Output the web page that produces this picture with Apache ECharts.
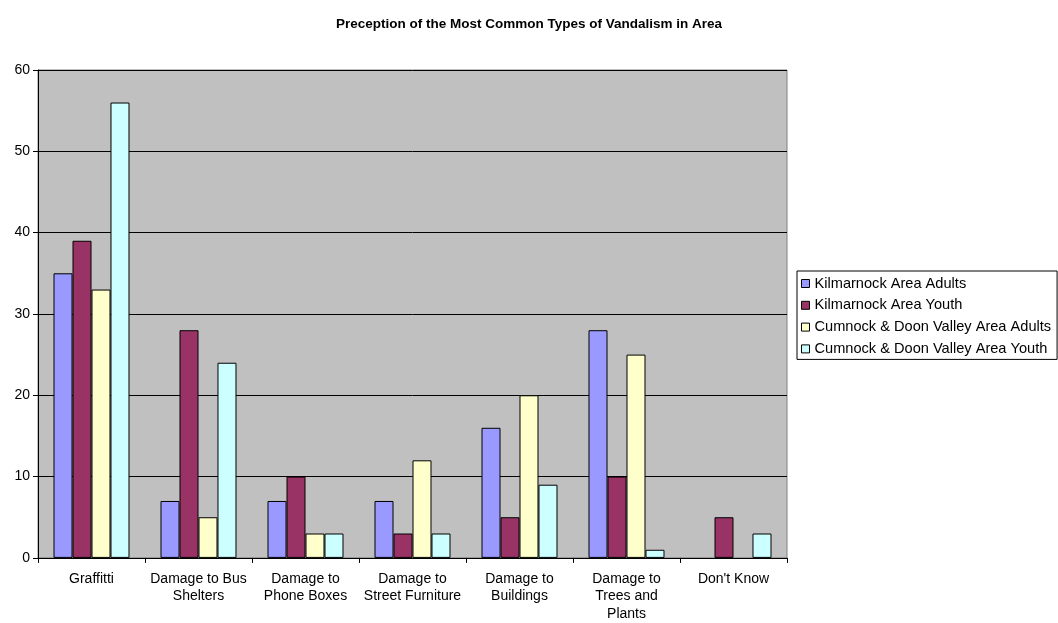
<!DOCTYPE html>
<html><head><meta charset="utf-8">
<script src="https://cdn.jsdelivr.net/npm/echarts@6/dist/echarts.min.js"></script>
<style>html,body{margin:0;padding:0;background:#fff}#c{width:1058px;height:623px}</style>
</head><body><div id="c"></div>
<script>
const categories = ["Graffitti", "Damage to Bus\nShelters", "Damage to\nPhone Boxes", "Damage to\nStreet Furniture", "Damage to\nBuildings", "Damage to\nTrees and\nPlants", "Don't Know"];
const seriesNames = ["Kilmarnock Area Adults", "Kilmarnock Area Youth", "Cumnock & Doon Valley Area Adults", "Cumnock & Doon Valley Area Youth"];
const kilAdults = [35, 7, 7, 7, 16, 28, null];
const kilYouth = [39, 28, 10, 3, 5, 10, 5];
const cumAdults = [33, 5, 3, 12, 20, 25, null];
const cumYouth = [56, 24, 3, 3, 9, 1, 3];
const colors = ["#9999FF", "#993366", "#FFFFCC", "#CCFFFF"];
const values = [kilAdults, kilYouth, cumAdults, cumYouth];

const chart = echarts.init(document.getElementById('c'), null, {renderer: 'canvas'});
const font = 'Liberation Sans, Arial, sans-serif';
chart.setOption({
  animation: false,
  textStyle: {fontFamily: font},
  title: {
    text: 'Preception of the Most Common Types of Vandalism in Area',
    left: 524, top: 12, textAlign: 'center',
    textStyle: {fontFamily: font, fontSize: 13.5, fontWeight: 'bold', color: '#000'}
  },
  legend: {
    orient: 'vertical', left: 797, top: 271,
    backgroundColor: '#fff', borderColor: '#000', borderWidth: 1, borderRadius: 0,
    padding: [5, 6, 3, 4], itemGap: 6.8, itemWidth: 8, itemHeight: 8,
    icon: 'rect',
    itemStyle: {borderColor: '#000', borderWidth: 1},
    textStyle: {fontFamily: font, fontSize: 14.6, lineHeight: 14, color: '#000'},
    data: seriesNames
  },
  grid: {
    left: 38, top: 70, right: 271, bottom: 64,
    show: true, backgroundColor: '#C0C0C0', borderColor: '#808080', borderWidth: 1
  },
  xAxis: {
    type: 'category', data: categories,
    axisLine: {show: true, lineStyle: {color: '#000', width: 1}},
    axisTick: {show: true, length: 5, alignWithLabel: false, lineStyle: {color: '#000'}},
    axisLabel: {interval: 0, fontFamily: font, fontSize: 14, color: '#000', lineHeight: 17.7, margin: 12}
  },
  yAxis: {
    type: 'value', min: 0, max: 60, interval: 10,
    axisLine: {show: true, lineStyle: {color: '#000', width: 1}},
    axisTick: {show: true, length: 5, lineStyle: {color: '#000'}},
    axisLabel: {fontFamily: font, fontSize: 14, color: '#000', margin: 8},
    splitLine: {show: true, lineStyle: {color: '#000', width: 1}}
  },
  series: seriesNames.map((n, i) => ({
    name: n, type: 'bar', data: values[i],
    barGap: '0%', barCategoryGap: '29%',
    itemStyle: {color: colors[i], borderColor: '#000', borderWidth: 1}
  }))
});
</script></body></html>
